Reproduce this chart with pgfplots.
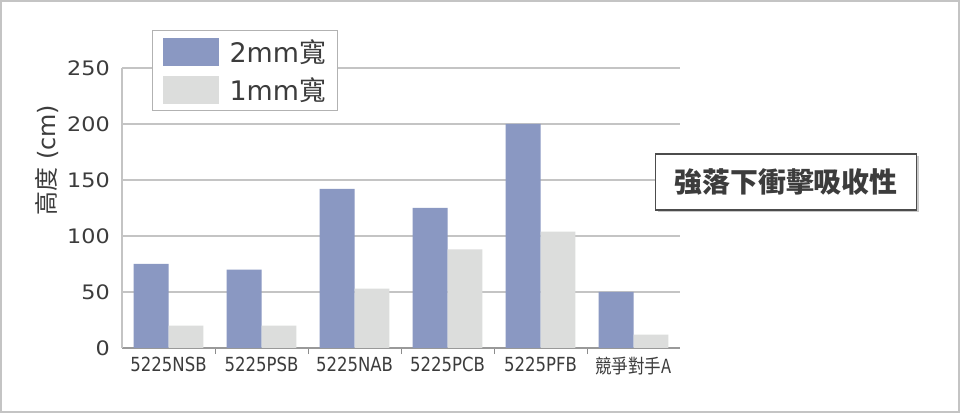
\documentclass[border=0pt]{standalone}
\usepackage{pgfplots}
\pgfplotsset{compat=1.18}
\usepackage{fontspec}
\setmainfont{DejaVu Sans}
\newfontfamily\cjk{Noto Sans CJK TC}
\usetikzlibrary{shadows}
\definecolor{barblue}{HTML}{8A98C2}
\definecolor{bargray}{HTML}{DCDDDC}
\definecolor{txt}{HTML}{3C3C3C}
\definecolor{gridc}{HTML}{C4C4C4}
\newcommand{\xl}[1]{\scalebox{0.85}[1]{#1}}
\pgfplotsset{ybar legend/.style={/pgfplots/legend image code/.code={\fill[##1] (0bp,-14bp) rectangle (56bp,14bp);}}}
\begin{document}
\begin{tikzpicture}
\useasboundingbox (0,0) rectangle (960bp,413bp);
\fill[white] (0,0) rectangle (960bp,413bp);
\draw[gridc, line width=2bp] (1bp,1bp) rectangle (959bp,412bp);
\begin{axis}[
  at={(122bp,65bp)}, anchor=south west,
  scale only axis, width=558bp, height=280bp,
  xmin=-0.5, xmax=5.5, ymin=0, ymax=250,
  axis x line*=bottom, axis y line*=left,
  axis line style={gridc, line width=1.2bp},
  x axis line style={draw=black!40},
  tick align=inside,
  xtick={0,1,2,3,4,5},
  xticklabels={\xl{5225NSB},\xl{5225PSB},\xl{5225NAB},\xl{5225PCB},\xl{5225PFB},{\xl{\cjk 競爭對手A}}},
  minor xtick={0.5,1.5,2.5,3.5,4.5},
  major tick length=0pt, minor tick length=6bp,
  minor x tick style={black!45, line width=1bp},
  ytick={0,50,100,150,200,250},
  ymajorgrids, major grid style={gridc, line width=1.2bp},
  xticklabel style={font=\fontsize{19.5}{19.5}\selectfont, text=txt, inner sep=0pt, anchor=north, yshift=-9bp},
  yticklabel style={font=\fontsize{20}{20}\selectfont, text=txt, inner sep=0pt, anchor=east, xshift=-12bp},
  yticklabel={\scalebox{1.12}[1]{\pgfmathprintnumber[assume math mode=true]{\tick}}},
  ylabel={{\cjk 高度} (cm)},
  ylabel style={at={(rel axis cs:-0.134,0.671)}, anchor=center, font=\fontsize{24}{24}\selectfont, text=txt},
  legend style={at={(0.0538,1.1357)}, anchor=north west, draw=black!30, line width=1bp, fill=white,
    font=\fontsize{27}{27}\selectfont, text=txt, inner xsep=10bp, inner ysep=7bp, row sep=10bp,
    column sep=9bp},
  legend cell align=left,
  ybar=0pt, bar width=0.376,
]
\addplot[fill=barblue, draw=none, bar shift=-0.188] coordinates {(0,75) (1,70) (2,142) (3,125) (4,200) (5,50)};
\addlegendentry{2mm{\cjk 寬}}
\addplot[fill=bargray, draw=none, bar shift=0.188] coordinates {(0,20) (1,20) (2,53) (3,88) (4,104) (5,12)};
\addlegendentry{1mm{\cjk 寬}}
\end{axis}
\node[draw=black!70, line width=1.6bp, fill=white, minimum width=261bp, minimum height=56bp,
  drop shadow={shadow xshift=2.5bp, shadow yshift=-2.5bp, opacity=0.35, fill=black!60},
  text=txt, font=\cjk\bfseries\fontsize{28}{28}\selectfont] at (786bp,231bp) {強落下衝擊吸收性};
\end{tikzpicture}
\end{document}
